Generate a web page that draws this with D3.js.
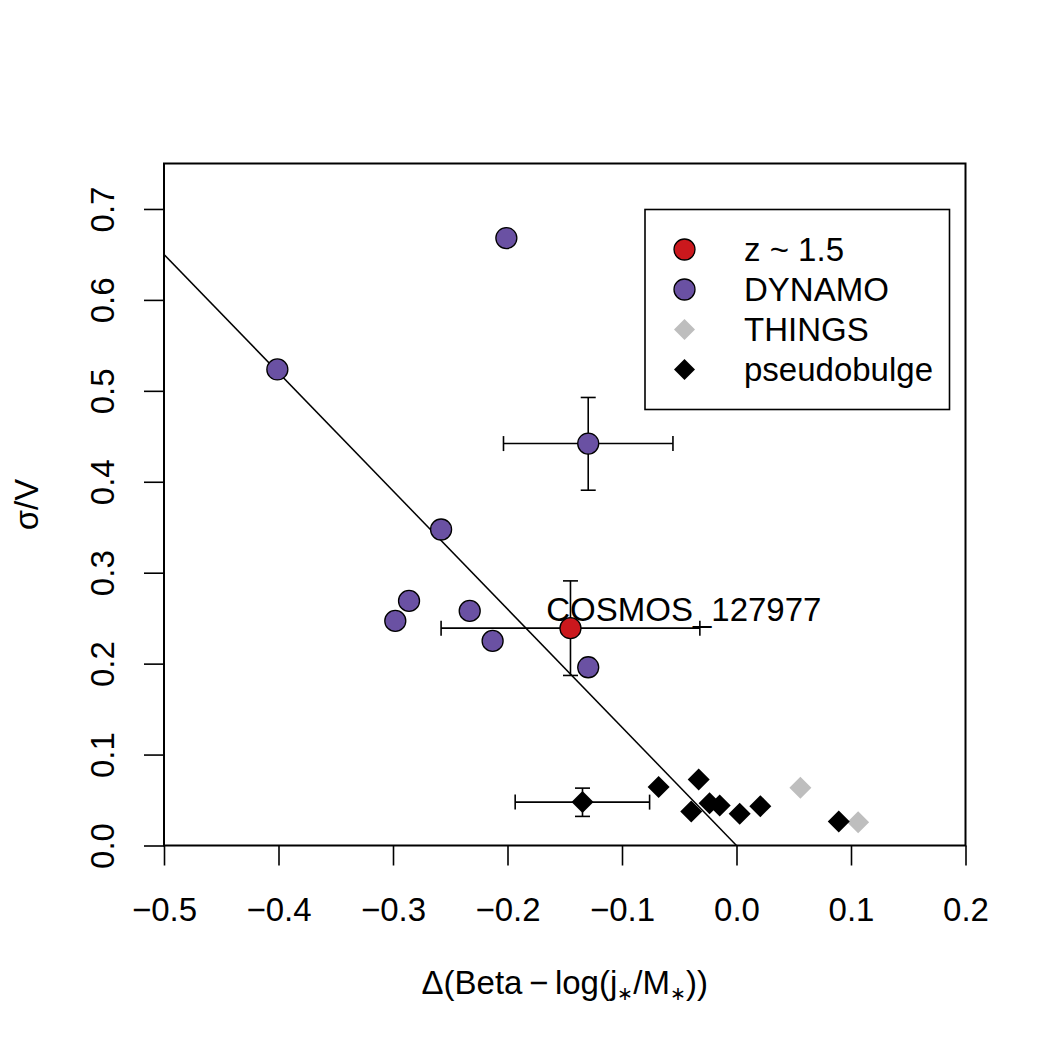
<!DOCTYPE html>
<html>
<head>
<meta charset="utf-8">
<script src="https://cdn.jsdelivr.net/npm/d3@7"></script>
<style>
  body { margin: 0; background: #fff; }
  text { font-family: "Liberation Sans", Arial, sans-serif; fill: #000; }
</style>
</head>
<body>
<div id="chart"></div>
<script>
// z ~ 1.5 galaxy
const zX = [-0.145];
const zY = [0.239];
const zXErr = [[-0.258, -0.032]];
const zYErr = [[0.187, 0.291]];

// DYNAMO sample
const dynX = [-0.201, -0.401, -0.1295, -0.258, -0.286, -0.298, -0.233, -0.213, -0.1295];
const dynY = [0.668, 0.5235, 0.442, 0.3475, 0.269, 0.247, 0.258, 0.225, 0.196];
// error bars only on one DYNAMO galaxy (index 2)
const dynErrIndex = [2];
const dynXErr = [[-0.2035, -0.0555]];
const dynYErr = [[0.3907, 0.4927]];

// THINGS
const thingsX = [0.0558, 0.1062];
const thingsY = [0.0635, 0.0257];

// pseudobulges
const pbX = [-0.1345, -0.068, -0.033, -0.0395, -0.0235, -0.0147, 0.0028, 0.0208, 0.0893];
const pbY = [0.0477, 0.0642, 0.0726, 0.0374, 0.0466, 0.044, 0.0349, 0.0433, 0.0264];
const pbXErr = [[-0.1933, -0.0759]];
const pbYErr = [[0.032, 0.0631]];

// fitted relation sigma/V = slope * delta, drawn from x=-0.5 to 0
const fitSlope = -1.3;
const fitRange = [-0.5, 0.0];

const xTicks = [-0.5, -0.4, -0.3, -0.2, -0.1, 0.0, 0.1, 0.2];
const yTicks = [0.0, 0.1, 0.2, 0.3, 0.4, 0.5, 0.6, 0.7];

const labelText = ["COSMOS_127977"];
const labelX = [-0.046];
const labelY = [0.26];

const legendNames = ["z ~ 1.5", "DYNAMO", "THINGS", "pseudobulge"];

const purple = "#6A51A3";
const red = "#CB181D";
const grey = "#BEBEBE";

const W = 1050, H = 1050;
const mLeft = 164, mRight = 965.5, mTop = 163.5, mBottom = 845.5;
const fs = 33;

const svg = d3.select("#chart").append("svg")
    .attr("width", W)
    .attr("height", H);

const x = d3.scaleLinear().domain([-0.5, 0.2]).range([mLeft, mRight]);
const y = d3.scaleLinear().domain([0, 0.75]).range([mBottom, mTop]);

const fmt = d => (d < 0 ? "\u2212" : "") + Math.abs(d).toFixed(1);

// axes
const xAxis = svg.append("g")
    .attr("transform", `translate(0,${mBottom})`)
    .call(d3.axisBottom(x).tickValues(xTicks).tickSize(20).tickPadding(32).tickFormat(fmt));
const yAxis = svg.append("g")
    .attr("transform", `translate(${mLeft},0)`)
    .call(d3.axisLeft(y).tickValues(yTicks).tickSize(20).tickFormat(fmt));

[xAxis, yAxis].forEach(a => {
    a.select(".domain").remove();
    a.selectAll("line").attr("stroke", "#000").attr("stroke-width", 1.6);
    a.selectAll("text").style("font-size", fs + "px").attr("fill", "#000")
        .style("font-family", "'Liberation Sans', Arial, sans-serif");
});
xAxis.selectAll("text").attr("dy", null).attr("y", 921 - mBottom);
yAxis.selectAll("text")
    .attr("x", null).attr("dy", null)
    .attr("text-anchor", "middle")
    .attr("transform", "translate(" + (114 - mLeft) + ",0) rotate(-90)");

// box
svg.append("rect")
    .attr("x", mLeft).attr("y", mTop)
    .attr("width", mRight - mLeft).attr("height", mBottom - mTop)
    .attr("fill", "none").attr("stroke", "#000").attr("stroke-width", 2);

// axis titles
const xt = svg.append("text")
    .attr("x", (mLeft + mRight) / 2).attr("y", 994)
    .attr("text-anchor", "middle")
    .style("font-size", fs + "px");
xt.append("tspan").text("\u0394(Beta\u2009\u2212\u2009log(j");
xt.append("tspan").attr("dy", 6).style("font-size", "19px").text("\u2217");
xt.append("tspan").attr("dy", -6).text("/M");
xt.append("tspan").attr("dy", 6).style("font-size", "19px").text("\u2217");
xt.append("tspan").attr("dy", -6).text("))");

svg.append("text")
    .attr("transform", `translate(38,${(mTop + mBottom) / 2}) rotate(-90)`)
    .attr("text-anchor", "middle")
    .style("font-size", fs + "px")
    .text("\u03C3/V");

// fit line
svg.append("line")
    .attr("x1", x(fitRange[0])).attr("y1", y(fitSlope * fitRange[0]))
    .attr("x2", x(fitRange[1])).attr("y2", y(fitSlope * fitRange[1]))
    .attr("stroke", "#000").attr("stroke-width", 1.5);

// error bars
const cap = 7.5;
function errBars(cx, cy, xe, ye) {
    const g = svg.append("g").attr("stroke", "#000").attr("stroke-width", 1.6);
    g.append("line").attr("x1", x(xe[0])).attr("x2", x(xe[1])).attr("y1", y(cy)).attr("y2", y(cy));
    g.append("line").attr("x1", x(xe[0])).attr("x2", x(xe[0])).attr("y1", y(cy) - cap).attr("y2", y(cy) + cap);
    g.append("line").attr("x1", x(xe[1])).attr("x2", x(xe[1])).attr("y1", y(cy) - cap).attr("y2", y(cy) + cap);
    g.append("line").attr("x1", x(cx)).attr("x2", x(cx)).attr("y1", y(ye[0])).attr("y2", y(ye[1]));
    g.append("line").attr("x1", x(cx) - cap).attr("x2", x(cx) + cap).attr("y1", y(ye[0])).attr("y2", y(ye[0]));
    g.append("line").attr("x1", x(cx) - cap).attr("x2", x(cx) + cap).attr("y1", y(ye[1])).attr("y2", y(ye[1]));
}
errBars(zX[0], zY[0], zXErr[0], zYErr[0]);
dynErrIndex.forEach((k, i) => errBars(dynX[k], dynY[k], dynXErr[i], dynYErr[i]));
errBars(pbX[0], pbY[0], pbXErr[0], pbYErr[0]);

// points
const diamond = r => `M0,${-r}L${r},0L0,${r}L${-r},0Z`;

svg.append("g").selectAll("path")
    .data(d3.zip(thingsX, thingsY)).enter().append("path")
    .attr("transform", d => `translate(${x(d[0])},${y(d[1])})`)
    .attr("d", diamond(11)).attr("fill", grey);

svg.append("g").selectAll("path")
    .data(d3.zip(pbX, pbY)).enter().append("path")
    .attr("transform", d => `translate(${x(d[0])},${y(d[1])})`)
    .attr("d", diamond(11)).attr("fill", "#000");

svg.append("g").selectAll("circle")
    .data(d3.zip(dynX, dynY)).enter().append("circle")
    .attr("cx", d => x(d[0])).attr("cy", d => y(d[1])).attr("r", 10.5)
    .attr("fill", purple).attr("stroke", "#000").attr("stroke-width", 1.3);

svg.append("g").selectAll("circle")
    .data(d3.zip(zX, zY)).enter().append("circle")
    .attr("cx", d => x(d[0])).attr("cy", d => y(d[1])).attr("r", 10.5)
    .attr("fill", red).attr("stroke", "#000").attr("stroke-width", 1.3);

// label
svg.append("g").selectAll("text")
    .data(labelText).enter().append("text")
    .attr("x", (d, i) => x(labelX[i])).attr("y", (d, i) => y(labelY[i]))
    .attr("dy", "0.35em")
    .attr("text-anchor", "middle")
    .style("font-size", fs + "px")
    .text(d => d);

// legend
const lg = svg.append("g");
lg.append("rect")
    .attr("x", 645).attr("y", 209.5).attr("width", 304.5).attr("height", 200)
    .attr("fill", "#fff").attr("stroke", "#000").attr("stroke-width", 1.6);
const legendStyle = [
    { shape: "circle", fill: red },
    { shape: "circle", fill: purple },
    { shape: "diamond", fill: grey },
    { shape: "diamond", fill: "#000" }
];
legendNames.forEach((name, i) => {
    const cy = 249.5 + i * 40;
    const s = legendStyle[i];
    if (s.shape === "circle") {
        lg.append("circle").attr("cx", 684.5).attr("cy", cy).attr("r", 10.5)
            .attr("fill", s.fill).attr("stroke", "#000").attr("stroke-width", 1.3);
    } else {
        lg.append("path").attr("transform", `translate(684.5,${cy})`)
            .attr("d", diamond(10.5)).attr("fill", s.fill);
    }
    lg.append("text").attr("x", 744).attr("y", cy).attr("dy", "0.35em")
        .style("font-size", fs + "px").text(name);
});
</script>
</body>
</html>
